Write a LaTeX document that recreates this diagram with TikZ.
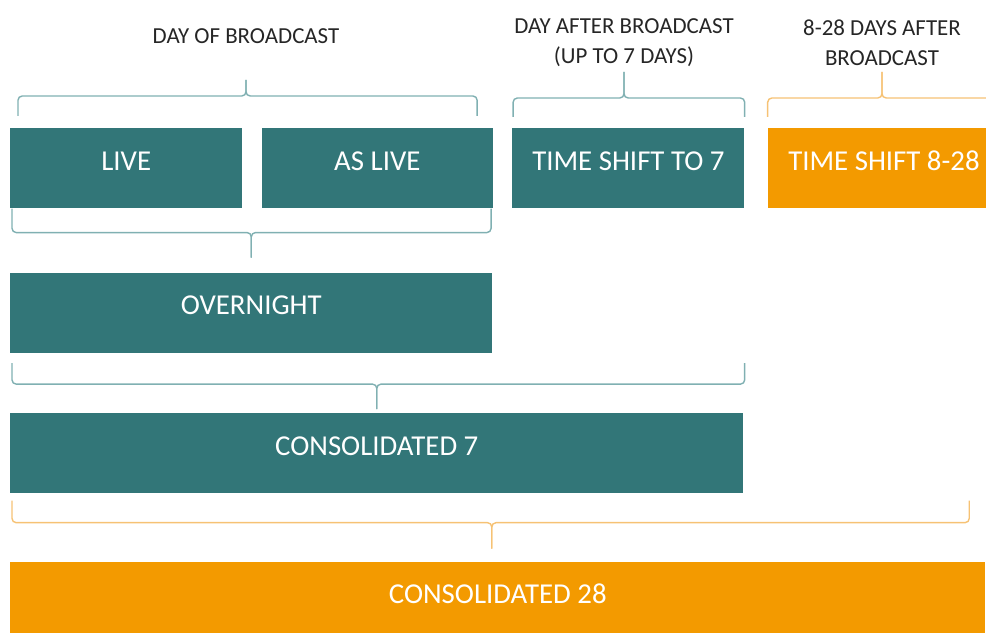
\documentclass[tikz,border=0pt]{standalone}
\usepackage{fontspec}
\setmainfont{Carlito}
\usepackage{xcolor}
\usepackage{tikz}
\usetikzlibrary{positioning,calc}

\definecolor{tealfill}{HTML}{327678}
\definecolor{orangefill}{HTML}{F39A00}
\definecolor{tealline}{HTML}{80B0B2}
\definecolor{orangeline}{HTML}{F6C274}
\definecolor{headtext}{HTML}{262626}

\begin{document}
\begin{tikzpicture}[
    box/.style={rectangle, draw=none, inner sep=0pt, minimum height=2cm, text=white, text height=0.5cm, text depth=0.4cm, font=\fontsize{20.5}{24}\selectfont, anchor=north west},
    tealbox/.style={box, fill=tealfill},
    orangebox/.style={box, fill=orangefill},
    heading/.style={inner sep=0pt, align=center, text=headtext, font=\fontsize{16.3}{21.5}\selectfont},
    bracket/.style={line width=1pt, rounded corners=3pt},
]

\clip (0,0) rectangle (24.65,-15.825);

% Headings
\node[heading] (dayof) at (6.15,-0.9) {DAY OF BROADCAST};
\node[heading] (dayafter) at (15.6,-1.075) {DAY AFTER BROADCAST\\(UP TO 7 DAYS)};
\node[heading] (days28) at (22.05,-1.075) {8-28 DAYS AFTER\\BROADCAST};

% Row 1: viewing windows
\node[tealbox, minimum width=5.8cm] (live) at (0.25,-3.2) {LIVE};
\node[tealbox, minimum width=5.775cm, right=0.475cm of live] (aslive) {AS LIVE};
\node[tealbox, minimum width=5.8cm, right=0.475cm of aslive] (shift7) {TIME SHIFT TO 7};
\node[orangebox, minimum width=5.8cm, right=0.575cm of shift7] (shift28) {TIME SHIFT 8-28};

% Row 2-4: aggregated figures
\node[tealbox, minimum width=12.05cm, below=1.6cm of live.south west, anchor=north west] (overnight) {OVERNIGHT};
\node[tealbox, minimum width=18.325cm, below=1.5cm of overnight.south west, anchor=north west] (cons7) {CONSOLIDATED 7};
\node[orangebox, minimum width=24.375cm, below=1.7cm of cons7.south west, anchor=north west] (cons28) {CONSOLIDATED 28};

% Brackets - headings to row 1
\draw[bracket, tealline] ($(live.north west)+(0.2,0.3)$) |- ($(dayof|-live.north)+(0,0.8)$) -- ($(dayof|-live.north)+(0,1.2)$);
\draw[bracket, tealline] ($(aslive.north east)+(-0.4,0.3)$) |- ($(dayof|-live.north)+(0,0.8)$) -- ($(dayof|-live.north)+(0,1.2)$);
\draw[bracket, tealline] ($(shift7.north west)+(0.025,0.275)$) |- ($(dayafter|-shift7.north)+(0,0.75)$) -- ($(dayafter|-shift7.north)+(0,1.4)$);
\draw[bracket, tealline] ($(shift7.north east)+(0,0.275)$) |- ($(dayafter|-shift7.north)+(0,0.75)$) -- ($(dayafter|-shift7.north)+(0,1.4)$);
\draw[bracket, orangeline] ($(shift28.north west)+(0,0.275)$) |- ($(days28|-shift28.north)+(0,0.75)$) -- ($(days28|-shift28.north)+(0,1.4)$);
\draw[bracket, orangeline] ($(shift28.north east)+(0,0.275)$) |- ($(days28|-shift28.north)+(0,0.75)$) -- ($(days28|-shift28.north)+(0,1.4)$);

% Brackets - live + as live to overnight
\draw[bracket, tealline] ($(live.south west)+(0.05,0)$) |- ($(overnight.north|-live.south)+(0,-0.6)$) -- ($(overnight.north)+(0,0.375)$);
\draw[bracket, tealline] ($(aslive.south east)+(-0.05,0)$) |- ($(overnight.north|-live.south)+(0,-0.6)$) -- ($(overnight.north)+(0,0.375)$);

% Brackets - overnight + time shift to consolidated 7
\draw[bracket, tealline] ($(overnight.south west)+(0.05,-0.25)$) |- ($(cons7.north|-overnight.south)+(0,-0.775)$) -- ($(cons7.north)+(0,0.1)$);
\draw[bracket, tealline] ($(shift7.east|-overnight.south)+(0,-0.25)$) |- ($(cons7.north|-overnight.south)+(0,-0.775)$) -- ($(cons7.north)+(0,0.1)$);

% Brackets - consolidated 7 + time shift 8-28 to consolidated 28
\draw[bracket, orangeline] ($(cons7.south west)+(0.05,-0.175)$) |- ($(cons28.north|-cons7.south)+(-0.15,-0.725)$) -- ($(cons28.north)+(-0.15,0.325)$);
\draw[bracket, orangeline] ($(shift28.east|-cons7.south)+(-0.775,-0.175)$) |- ($(cons28.north|-cons7.south)+(-0.15,-0.725)$) -- ($(cons28.north)+(-0.15,0.325)$);

\end{tikzpicture}
\end{document}
